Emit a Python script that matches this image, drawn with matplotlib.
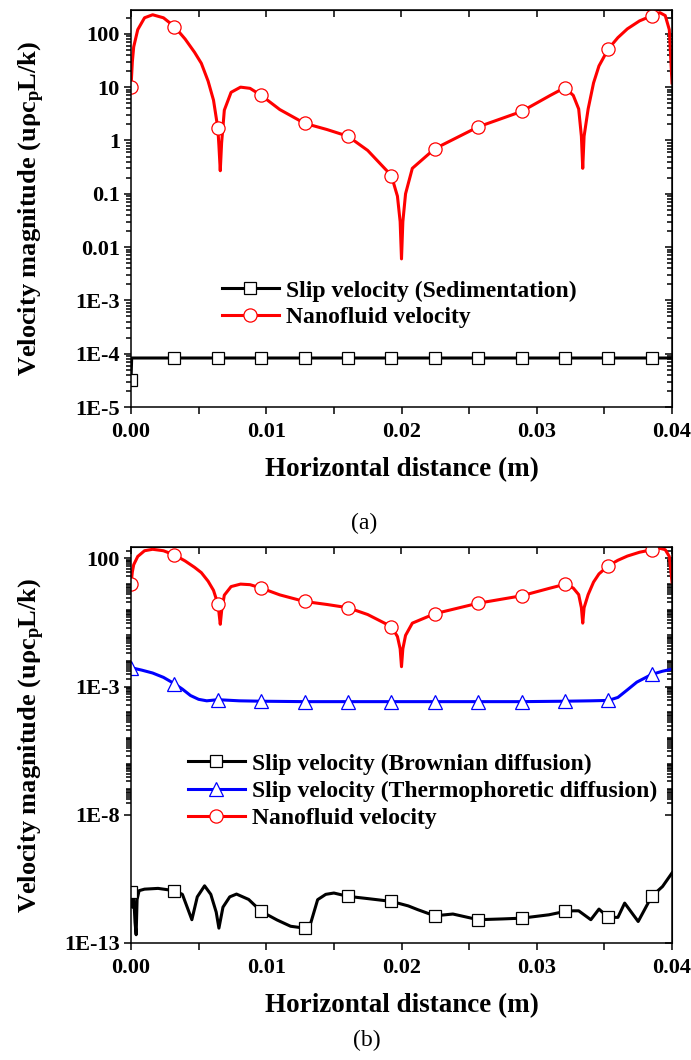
import numpy as np
import matplotlib
matplotlib.use('Agg')
import matplotlib.pyplot as plt
from matplotlib.ticker import FixedLocator, NullFormatter

plt.rcParams['font.family'] = ['Liberation Serif', 'DejaVu Serif']
plt.rcParams['font.weight'] = 'bold'
plt.rcParams['axes.labelweight'] = 'bold'
plt.rcParams['mathtext.fontset'] = 'custom'
plt.rcParams['mathtext.rm'] = 'Liberation Serif:bold'
plt.rcParams['mathtext.it'] = 'Liberation Serif:bold'
plt.rcParams['mathtext.bf'] = 'Liberation Serif:bold'

# Nanofluid velocity along the horizontal line (same profile in both panels)
nano_x = [0.0, 0.0001, 0.0002, 0.0005, 0.001, 0.0016, 0.0024, 0.00321, 0.004, 0.0047,
          0.0052, 0.0057, 0.0061, 0.00642, 0.0065, 0.0066, 0.0067, 0.0069, 0.0074, 0.0081,
          0.0088, 0.00963, 0.011, 0.01283, 0.0145, 0.01604, 0.0175, 0.01925, 0.0197, 0.0199,
          0.0200, 0.0201, 0.0203, 0.0208, 0.02246, 0.02567, 0.02888, 0.031, 0.03208, 0.0327,
          0.0331, 0.0333, 0.0334, 0.0335, 0.0338, 0.0342, 0.0346, 0.03529, 0.0360, 0.0367,
          0.0376, 0.0385, 0.0391, 0.0395, 0.0398, 0.0400]
nano_v = [10, 30, 57, 120, 200, 228, 200, 137, 80, 45,
          28, 13, 5.7, 1.7, 0.8, 0.27, 0.9, 3.7, 8, 10,
          9.5, 7, 3.8, 2.1, 1.6, 1.2, 0.65, 0.22, 0.09, 0.03,
          0.006, 0.03, 0.1, 0.3, 0.7, 1.8, 3.5, 7, 9.8, 7,
          3.9, 1.2, 0.3, 1.2, 3.9, 12, 25, 52, 85, 124,
          175, 218, 250, 220, 120, 12]

# Sedimentation slip velocity, panel (a)
sed_x = [0.0, 0.00005, 0.00321, 0.00642, 0.00963, 0.01283, 0.01604, 0.01925, 0.02246,
         0.02567, 0.02888, 0.03208, 0.03529, 0.0385, 0.0400]
sed_v = [3.2e-5, 8.3e-5, 8.3e-5, 8.3e-5, 8.3e-5, 8.3e-5, 8.3e-5, 8.3e-5, 8.3e-5,
         8.3e-5, 8.3e-5, 8.3e-5, 8.3e-5, 8.3e-5, 8.3e-5]

# Brownian diffusion slip velocity, panel (b)
brown_x = [0.0, 0.0001, 0.0002, 0.0003, 0.00038, 0.00045, 0.0006, 0.001, 0.002, 0.00321,
           0.0038, 0.0045, 0.0049, 0.00544, 0.0059, 0.0063, 0.0065, 0.0068, 0.0073, 0.0078,
           0.0087, 0.00963, 0.0108, 0.0118, 0.01283, 0.0133, 0.0138, 0.0144, 0.015, 0.01604,
           0.0175, 0.01925, 0.0205, 0.0212, 0.02246, 0.0238, 0.02567, 0.0275, 0.02888, 0.0309,
           0.03208, 0.0327, 0.0331, 0.034, 0.0346, 0.03529, 0.036, 0.0365, 0.0375, 0.0385,
           0.0393, 0.0400]
brown_v = [1.0e-11, 2.5e-12, 6.3e-12, 6.3e-13, 2.1e-13, 5.0e-12, 1.1e-11, 1.26e-11, 1.35e-11, 1.1e-11,
           7.9e-12, 8.1e-13, 6.3e-12, 1.7e-11, 7.9e-12, 1.6e-12, 3.8e-13, 2.5e-12, 6.3e-12, 8.1e-12,
           5.0e-12, 1.7e-12, 7.9e-13, 4.5e-13, 3.8e-13, 6.3e-13, 4.9e-12, 7.9e-12, 8.9e-12, 6.6e-12,
           5.4e-12, 4.2e-12, 2.8e-12, 2.0e-12, 1.15e-12, 1.35e-12, 8.1e-13, 8.7e-13, 9.3e-13, 1.26e-12,
           1.7e-12, 1.8e-12, 1.8e-12, 8.1e-13, 2.1e-12, 1.0e-12, 1.0e-12, 3.6e-12, 6.9e-13, 6.6e-12,
           1.6e-11, 5.4e-11]

# Thermophoretic diffusion slip velocity, panel (b)
thermo_x = [0.0, 0.0008, 0.0016, 0.0024, 0.00321, 0.0038, 0.0044, 0.005, 0.0056, 0.00642,
            0.008, 0.00963, 0.01283, 0.01604, 0.01925, 0.02246, 0.02567, 0.02888, 0.03208, 0.034,
            0.03529, 0.0360, 0.0367, 0.0374, 0.0385, 0.0393, 0.0400]
thermo_v = [5.5e-3, 4.4e-3, 3.4e-3, 2.3e-3, 1.3e-3, 8.0e-4, 4.5e-4, 3.2e-4, 2.8e-4, 3.1e-4,
            2.8e-4, 2.7e-4, 2.6e-4, 2.6e-4, 2.6e-4, 2.6e-4, 2.6e-4, 2.6e-4, 2.7e-4, 2.8e-4,
            2.9e-4, 3.8e-4, 7.5e-4, 1.5e-3, 3.0e-3, 4.0e-3, 4.8e-3]

# symbol positions shared by all curves
mark_x = [0.0, 0.00321, 0.00642, 0.00963, 0.01283, 0.01604, 0.01925, 0.02246,
          0.02567, 0.02888, 0.03208, 0.03529, 0.0385]

x_ticks = [0.0, 0.01, 0.02, 0.03, 0.04]
x_labels = ['0.00', '0.01', '0.02', '0.03', '0.04']
x_minor = [0.005, 0.015, 0.025, 0.035]

ya_ticks = [1e-5, 1e-4, 1e-3, 1e-2, 1e-1, 1, 10, 100]
ya_labels = ['1E-5', '1E-4', '1E-3', '0.01', '0.1', '1', '10', '100']
yb_ticks = [1e-13, 1e-8, 1e-3, 100]
yb_labels = ['1E-13', '1E-8', '1E-3', '100']

ya_lim = (1e-5, 280)
yb_lim = (1e-13, 280)


def mark_mask(x):
    x = np.asarray(x)
    return np.isclose(x[:, None], np.asarray(mark_x)[None, :], atol=1e-7).any(axis=1)


def log_minor(lo, hi, majors):
    vals = []
    for e in range(int(np.floor(np.log10(lo))), int(np.ceil(np.log10(hi))) + 1):
        for k in range(1, 10):
            v = k * 10.0 ** e
            if lo <= v <= hi and not np.any(np.isclose(v, majors, rtol=1e-6)):
                vals.append(v)
    return vals


def style_axes(ax, ylim, yticks, ylabels):
    ax.set_xlim(0, 0.04)
    ax.set_yscale('log')
    ax.set_ylim(*ylim)
    ax.set_xticks(x_ticks, x_labels)
    ax.xaxis.set_minor_locator(FixedLocator(x_minor))
    ax.set_yticks(yticks, ylabels)
    yminor = log_minor(ylim[0], ylim[1], yticks)
    ax.yaxis.set_minor_locator(FixedLocator(yminor))
    ax.yaxis.set_minor_formatter(NullFormatter())
    ax.tick_params(which='both', direction='out', width=1.1, labelsize=16)
    ax.tick_params(axis='x', which='major', pad=6)
    ax.tick_params(axis='y', which='major', pad=3)
    ax.tick_params(which='major', length=5)
    ax.tick_params(which='minor', length=3.5)
    ax.tick_params(axis='x', which='minor', length=5)
    for s in ax.spines.values():
        s.set_linewidth(1.1)

    # mirrored ticks pointing inward on top and right
    top = ax.secondary_xaxis('top')
    top.set_xticks(x_ticks)
    top.xaxis.set_major_formatter(NullFormatter())
    top.xaxis.set_minor_locator(FixedLocator(x_minor))
    top.tick_params(which='both', direction='in', length=5, width=1.1)
    right = ax.secondary_yaxis('right', functions=(lambda v: v, lambda v: v))
    right.set_yticks(yticks)
    right.yaxis.set_major_formatter(NullFormatter())
    right.yaxis.set_minor_locator(FixedLocator(yminor))
    right.yaxis.set_minor_formatter(NullFormatter())
    right.tick_params(which='major', direction='in', length=5, width=1.1)
    right.tick_params(which='minor', direction='in', length=3.5, width=1.1)

    ax.set_xlabel('Horizontal distance (m)', fontsize=19.5, fontweight='bold', labelpad=11)
    ax.set_ylabel(r'Velocity magnitude (u$\rho$c$_\mathrm{p}$L/k)', fontsize=19,
                  fontweight='bold')
    ax.yaxis.set_label_coords(-0.155, 0.5)


fig = plt.figure(figsize=(6.91, 10.6), dpi=100)
ax_a = fig.add_axes([131 / 691, 1 - 407 / 1060, 541 / 691, 397 / 1060])
ax_b = fig.add_axes([131 / 691, 1 - 943 / 1060, 541 / 691, 396 / 1060])

line_kw = dict(lw=2.2, mfc='white', mew=0.9)
leg_kw = dict(bbox_transform=fig.transFigure, frameon=False,
              prop={'size': 17, 'weight': 'bold'}, handlelength=2.4,
              handletextpad=0.3, borderpad=0, borderaxespad=0)

# panel (a)
ax_a.plot(sed_x, sed_v, color='black', marker='s', ms=8.5, mec='black',
          markevery=list(np.flatnonzero(mark_mask(sed_x))),
          label='Slip velocity (Sedimentation)', **line_kw)
ax_a.plot(nano_x, nano_v, color='red', marker='o', ms=9.5, mec='red',
          markevery=list(np.flatnonzero(mark_mask(nano_x))),
          label='Nanofluid velocity', **line_kw)
style_axes(ax_a, ya_lim, ya_ticks, ya_labels)
ax_a.legend(loc='upper left', bbox_to_anchor=(222 / 691, 1 - 280 / 1060),
            labelspacing=0.2, **leg_kw)

# panel (b)
ax_b.plot(brown_x, brown_v, color='black', marker='s', ms=8.5, mec='black',
          markevery=list(np.flatnonzero(mark_mask(brown_x))),
          label='Slip velocity (Brownian diffusion)', **line_kw)
ax_b.plot(thermo_x, thermo_v, color='blue', marker='^', ms=9.5, mec='blue',
          markevery=list(np.flatnonzero(mark_mask(thermo_x))),
          label='Slip velocity (Thermophoretic diffusion)', **line_kw)
ax_b.plot(nano_x, nano_v, color='red', marker='o', ms=9.5, mec='red',
          markevery=list(np.flatnonzero(mark_mask(nano_x))),
          label='Nanofluid velocity', **line_kw)
style_axes(ax_b, yb_lim, yb_ticks, yb_labels)
ax_b.legend(loc='upper left', bbox_to_anchor=(188 / 691, 1 - 753 / 1060),
            labelspacing=0.25, **leg_kw)

fig.text(364 / 691, 1 - 523 / 1060, '(a)', fontsize=17, fontweight='normal',
         ha='center', va='center')
fig.text(367 / 691, 1 - 1040 / 1060, '(b)', fontsize=17, fontweight='normal',
         ha='center', va='center')

fig.savefig('out.png', dpi=100)
